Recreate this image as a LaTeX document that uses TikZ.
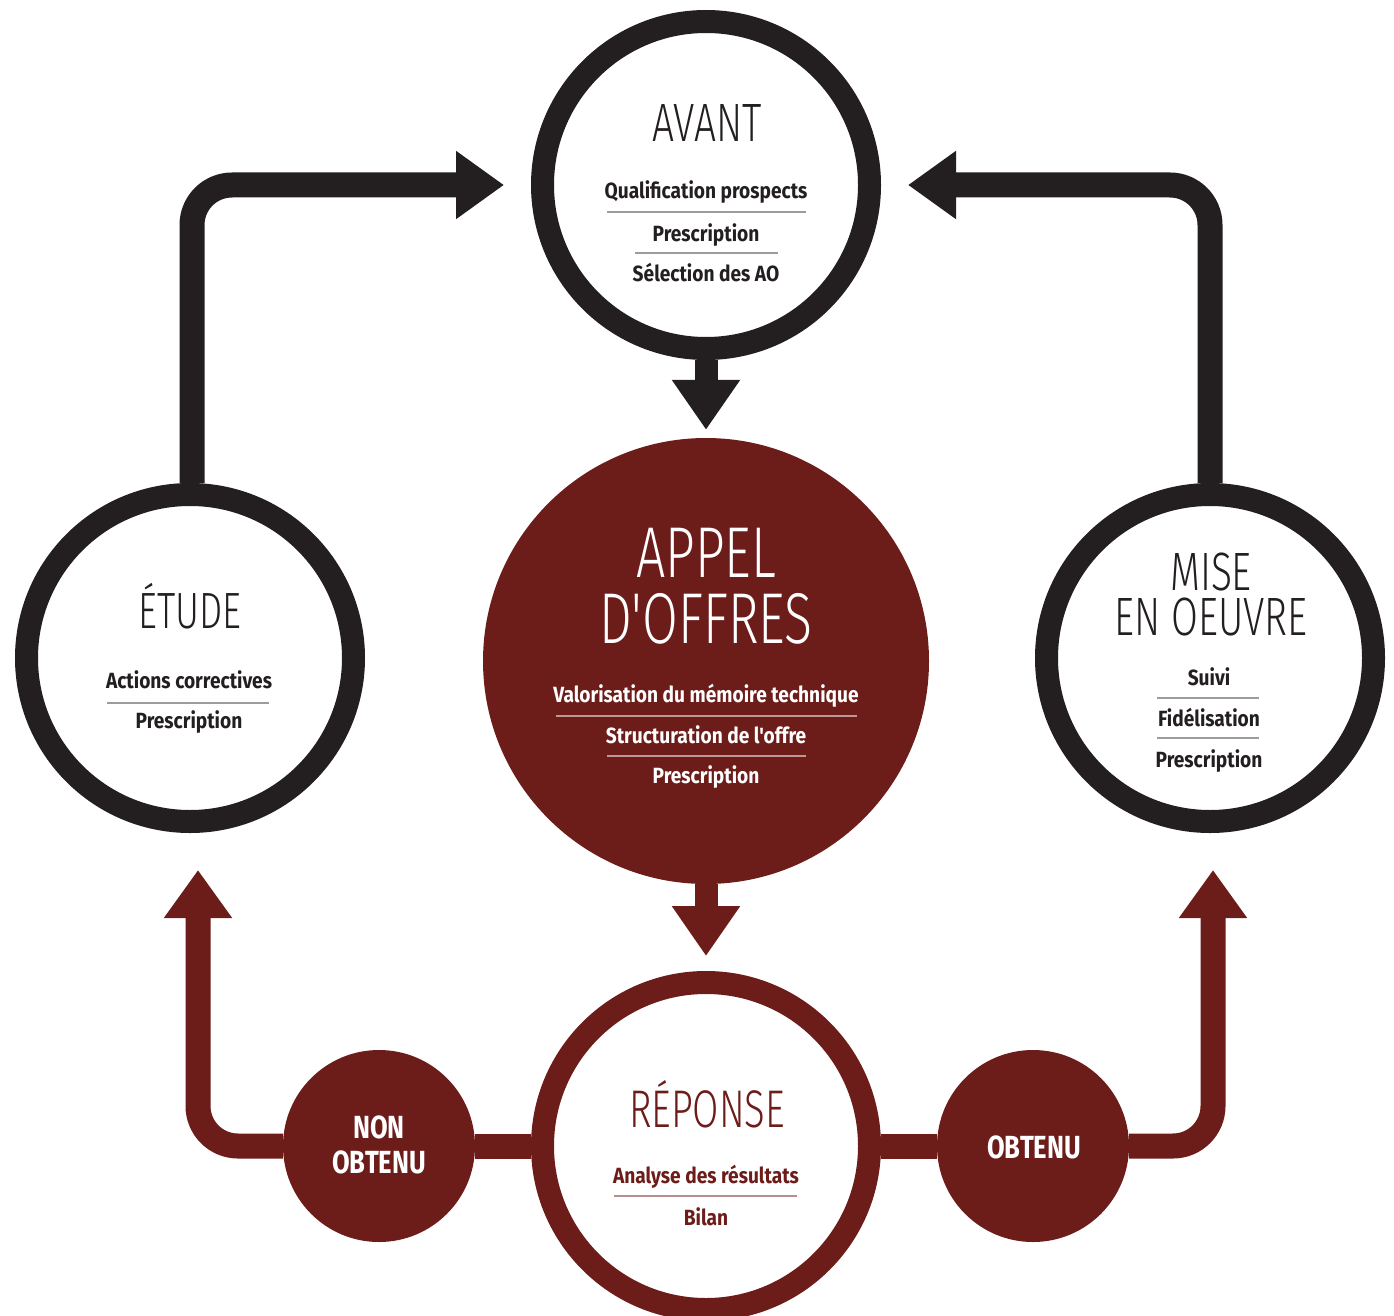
\documentclass[tikz,border=0pt]{standalone}
\usepackage{fontspec}
\newfontfamily\titlef{Fira Sans Light}[FakeStretch=0.72]
\newfontfamily\itemf{Fira Sans}[FakeStretch=0.87]
\newfontfamily\bigf{Fira Sans}[FakeStretch=0.8]
\usetikzlibrary{arrows.meta,backgrounds}
\definecolor{ink}{HTML}{231F20}
\definecolor{wine}{HTML}{6C1D1A}
\definecolor{sepgray}{HTML}{9C9C9C}
\begin{document}
\begin{tikzpicture}[x=1pt,y=-1pt,
  ring/.style={circle,draw=#1,line width=23pt,fill=white,minimum size=327pt,inner sep=0pt},
  disc/.style={circle,fill=wine,minimum size=#1,inner sep=0pt},
  ttl/.style={font=\titlef\fontsize{#1}{#1}\selectfont,anchor=base,inner sep=0pt},
  itm/.style={font=\itemf\bfseries\fontsize{22}{22}\selectfont,anchor=base,inner sep=0pt},
  bigw/.style={font=\bigf\bfseries\fontsize{32}{32}\selectfont,anchor=base,inner sep=0pt,text=white},
  sep/.style={line width=1.5pt},
  conn/.style={draw=#1,line width=25pt,rounded corners=40pt,-{Triangle[length=48pt,width=65pt]}},
  drop/.style={draw=#1,line width=23pt,-{Triangle[length=50pt,width=65pt]}},
  bar/.style={draw=wine,line width=25pt},
]
\useasboundingbox (0,0) rectangle (1394,1316);

% circles
\node[ring=ink] (avant) at (706,185) {};
\node[ring=ink] (etude) at (190,658) {};
\node[ring=ink] (mise) at (1210,658) {};
\node[disc=446pt] (appel) at (706,661) {};
\node[ring=wine] (reponse) at (706,1146) {};
\node[disc=192pt] (nonobt) at (379,1146) {};
\node[disc=192pt] (obt) at (1033,1146) {};

% connectors
\begin{scope}[on background layer]
\draw[conn=ink,shorten >=27pt] ([xshift=2pt]etude.north) |- (avant.west);
\draw[conn=ink,shorten >=27pt] (mise.north) |- (avant.east);
\draw[drop=ink,shorten >=8pt] (avant.south) -- (appel.north);
\draw[drop=wine,shorten >=15pt] (appel.south) -- (reponse.north);
\draw[bar] (reponse.west) -- (nonobt.east);
\draw[bar] (reponse.east) -- (obt.west);
\draw[conn=wine,shorten >=37pt] (nonobt.west) -| ([xshift=8pt]etude.south);
\draw[conn=wine,shorten >=37pt] (obt.east) -| ([xshift=3pt]mise.south);
\end{scope}

% AVANT
\node[ttl=54,text=ink] (tavant) at (707,142) {AVANT};
\node[itm,text=ink] (a1) at (706,198) {Qualification prospects};
\node[itm,text=ink] (a2) at (706,241) {Prescription};
\node[itm,text=ink] (a3) at (706,281) {Sélection des AO};
\draw[sep,sepgray] (607,212) -- (806,212);
\draw[sep,sepgray] (635,253) -- (778,253);

% APPEL D'OFFRES
\node[ttl=72,text=white] (tappel1) at (706,577) {APPEL};
\node[ttl=72,text=white] (tappel2) at (706,643) {D'OFFRES};
\node[itm,text=white] (p1) at (706,702) {Valorisation du mémoire technique};
\node[itm,text=white] (p2) at (706,743) {Structuration de l'offre};
\node[itm,text=white] (p3) at (706,783) {Prescription};
\draw[sep,white,opacity=0.55] (556,716) -- (857,716);
\draw[sep,white,opacity=0.55] (607,756) -- (806,756);

% ETUDE
\node[ttl=51,text=ink] (tetude) at (190,628) {ÉTUDE};
\node[itm,text=ink] (e1) at (189,688) {Actions correctives};
\node[itm,text=ink] (e2) at (189,728) {Prescription};
\draw[sep,sepgray] (107,703) -- (269,703);

% MISE EN OEUVRE
\node[font=\titlef\fontsize{54}{45}\selectfont,align=center,anchor=north,inner sep=0pt,text=ink] (tmise) at (1211,553) {MISE\\EN OEUVRE};
\node[itm,text=ink] (m1) at (1209,685) {Suivi};
\node[itm,text=ink] (m2) at (1209,726) {Fidélisation};
\node[itm,text=ink] (m3) at (1209,767) {Prescription};
\draw[sep,sepgray] (1157,698) -- (1259,698);
\draw[sep,sepgray] (1157,738) -- (1259,738);

% REPONSE
\node[ttl=53,text=wine] (treponse) at (707,1127) {RÉPONSE};
\node[itm,text=wine] (r1) at (706,1183) {Analyse des résultats};
\node[itm,text=wine] (r2) at (706,1225) {Bilan};
\draw[sep,wine!50] (614,1196) -- (797,1196);

% NON OBTENU / OBTENU
\node[bigw] (tnon1) at (379,1138) {NON};
\node[bigw] (tnon2) at (379,1173) {OBTENU};
\node[bigw] (tobt) at (1034,1158) {OBTENU};
\end{tikzpicture}
\end{document}
